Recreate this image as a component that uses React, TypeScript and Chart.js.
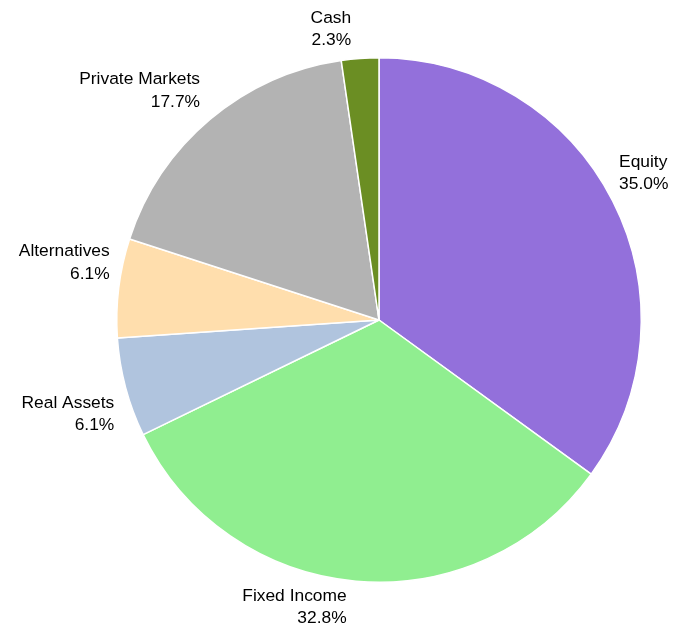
import React, { useEffect, useRef } from "react";
import { Chart, registerables } from "chart.js";

Chart.register(...registerables);

const categories = ["Equity", "Fixed Income", "Real Assets", "Alternatives", "Private Markets", "Cash"];
const values = [35.0, 32.8, 6.1, 6.1, 17.7, 2.3];
const colors = ["#9370DB", "#90EE90", "#B0C4DE", "#FFDEAD", "#B3B3B3", "#6B8E23"];
// fine adjustments of label anchors (px) relative to 1.1 * radius along mid-angle
const labelNudgeX = [-17, -7, 14, 17, 7, -7];
const labelNudgeY = [-16, 0, 20, -22, -9, -3];

const labelPlugin = {
  id: "pieLabels",
  afterDraw(chart: any) {
    const ctx = chart.ctx;
    const meta = chart.getDatasetMeta(0);
    const total = values.reduce((a, b) => a + b, 0);
    ctx.save();
    ctx.font = '17.4px "Liberation Sans", Arial, sans-serif';
    ctx.fillStyle = "#000000";
    ctx.textBaseline = "middle";
    meta.data.forEach((arc: any, i: number) => {
      const mid = (arc.startAngle + arc.endAngle) / 2;
      const d = arc.outerRadius * 1.1;
      const cx = Math.cos(mid);
      const x = arc.x + cx * d + labelNudgeX[i];
      const y = arc.y + Math.sin(mid) * d + labelNudgeY[i];
      ctx.textAlign = cx >= 0 ? "left" : "right";
      const pct = ((values[i] / total) * 100).toFixed(1) + "%";
      ctx.fillText(categories[i], x, y - 11.25);
      ctx.fillText(pct, x, y + 11.25);
    });
    ctx.restore();
  },
};

export default function App() {
  const ref = useRef<HTMLCanvasElement | null>(null);
  useEffect(() => {
    if (!ref.current) return;
    const chart = new Chart(ref.current, {
      type: "pie",
      data: {
        labels: categories,
        datasets: [
          {
            data: values,
            backgroundColor: colors,
            borderColor: "#FFFFFF",
            borderWidth: 1.5,
          },
        ],
      },
      options: {
        animation: false,
        responsive: false,
        layout: { padding: { top: 57, bottom: 50, left: 116, right: 31 } },
        plugins: {
          legend: { display: false },
          tooltip: { enabled: false },
        },
      },
      plugins: [labelPlugin],
    });
    return () => chart.destroy();
  }, []);
  return (
    <div style={{ position: "fixed", left: 0, top: 0, width: 673, height: 633, overflow: "hidden" }}>
      <canvas ref={ref} width={673} height={633} style={{ width: 673, height: 633, display: "block" }} />
    </div>
  );
}
